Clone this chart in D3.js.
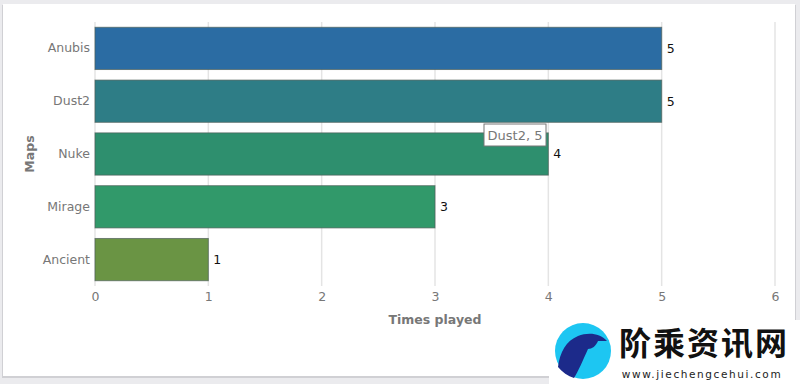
<!DOCTYPE html>
<html>
<head>
<meta charset="utf-8">
<script src="https://cdn.jsdelivr.net/npm/d3@7"></script>
<style>
  html, body { margin: 0; padding: 0; background: #ebebee; }
  #chart { width: 800px; height: 384px; }
</style>
</head>
<body>
<div id="chart"></div>
<script>
var maps = ['Anubis', 'Dust2', 'Nuke', 'Mirage', 'Ancient'],
    timesPlayed = [5, 5, 4, 3, 1],
    barColors = ['#2b6ca3', '#2e7d86', '#2e8f6e', '#31996a', '#6a9444'],
    xTicks = [0, 1, 2, 3, 4, 5, 6]

var tooltipMap = 'Dust2', tooltipValue = 5

var width = 800, height = 384,
    margins = {top: 22, right: 25, bottom: 98, left: 95},
    font = 'Verdana, "DejaVu Sans", sans-serif'

var svg = d3.select('#chart').append('svg')
    .attr('width', width)
    .attr('height', height)
    .style('font-family', font)

// card
svg.append('rect')
    .attr('x', 2).attr('y', 5).attr('width', 794).attr('height', 373)
    .attr('fill', '#d0d0d4')
svg.append('rect')
    .attr('x', 3).attr('y', 4).attr('width', 792).attr('height', 372)
    .attr('fill', '#fff')

var x = d3.scaleLinear()
    .domain([0, 6])
    .range([margins.left, 775])

var y = d3.scaleBand()
    .domain(maps)
    .range([margins.top, 286])
    .paddingInner(0.2)
    .paddingOuter(0.1)

// gridlines
svg.append('g').selectAll('line')
    .data(xTicks)
    .join('line')
    .attr('x1', d => x(d)).attr('x2', d => x(d))
    .attr('y1', margins.top).attr('y2', 286)
    .attr('stroke', '#e4e4e4')
    .attr('stroke-width', 1.5)

// bars
svg.append('g').selectAll('rect')
    .data(maps)
    .join('rect')
    .attr('x', x(0))
    .attr('y', d => y(d))
    .attr('width', (d, i) => x(timesPlayed[i]) - x(0))
    .attr('height', y.bandwidth())
    .attr('fill', (d, i) => barColors[i])
    .attr('stroke', '#4f5f5a')
    .attr('stroke-opacity', 0.7)
    .attr('stroke-width', 1)

// value labels
svg.append('g').selectAll('text')
    .data(maps)
    .join('text')
    .attr('x', (d, i) => x(timesPlayed[i]) + 5)
    .attr('y', d => y(d) + y.bandwidth() / 2)
    .attr('dy', '0.35em')
    .attr('font-size', 12.5)
    .attr('fill', '#111')
    .text((d, i) => timesPlayed[i])

// x axis
var xAxis = svg.append('g')
    .attr('transform', 'translate(0,286)')
    .call(d3.axisBottom(x).tickValues(xTicks).tickFormat(d3.format('d')).tickSize(0).tickPadding(6))
xAxis.select('.domain').remove()
xAxis.selectAll('text')
    .attr('font-size', 12.5)
    .attr('font-family', font)
    .attr('fill', '#777')

// y axis
var yAxis = svg.append('g')
    .attr('transform', 'translate(' + (margins.left - 5) + ',0)')
    .call(d3.axisLeft(y).tickSize(0).tickPadding(0))
yAxis.select('.domain').remove()
yAxis.selectAll('text')
    .attr('font-size', 12.5)
    .attr('font-family', font)
    .attr('fill', '#777')

// axis titles
svg.append('text')
    .attr('x', 435).attr('y', 324)
    .attr('text-anchor', 'middle')
    .attr('font-size', 12.5)
    .attr('font-weight', 'bold')
    .attr('fill', '#777')
    .text('Times played')

svg.append('text')
    .attr('transform', 'translate(34,' + ((margins.top + 286) / 2) + ') rotate(-90)')
    .attr('text-anchor', 'middle')
    .attr('font-size', 12.5)
    .attr('font-weight', 'bold')
    .attr('fill', '#777')
    .text('Maps')

// tooltip
var tip = svg.append('g')
    .attr('transform', 'translate(484,124)')
tip.append('rect')
    .attr('width', 62).attr('height', 22)
    .attr('fill', '#fff')
    .attr('stroke', '#777')
    .attr('stroke-width', 1)
tip.append('text')
    .attr('x', 31).attr('y', 16)
    .attr('text-anchor', 'middle')
    .attr('font-size', 13)
    .attr('fill', '#777')
    .text(tooltipMap + ', ' + tooltipValue)

// watermark
var wm = svg.append('g')
wm.append('rect')
    .attr('x', 549).attr('y', 320).attr('width', 251).attr('height', 64)
    .attr('fill', '#fff')
wm.append('circle')
    .attr('cx', 583).attr('cy', 351).attr('r', 28)
    .attr('fill', '#1dc6f2')
wm.append('path')
    .attr('d', 'M558,367 C560,352 566,341 578,336 C588,332 600,333 607,341 L598,341 C596,346 592,349 588,349 C583,360 578,372 574,378 C568,376 562,372 558,367 Z')
    .attr('fill', '#1c2a8a')
wm.append('text')
    .attr('x', 704).attr('y', 355)
    .attr('text-anchor', 'middle')
    .attr('font-size', 32)
    .attr('font-weight', 'bold')
    .attr('font-family', '"Noto Sans CJK SC", sans-serif')
    .attr('letter-spacing', 2)
    .attr('fill', '#111')
    .text('阶乘资讯网')
wm.append('text')
    .attr('x', 702).attr('y', 378)
    .attr('text-anchor', 'middle')
    .attr('font-size', 10.5)
    .attr('letter-spacing', 1.6)
    .attr('fill', '#222')
    .text('www.jiechengcehui.com')
</script>
</body>
</html>
